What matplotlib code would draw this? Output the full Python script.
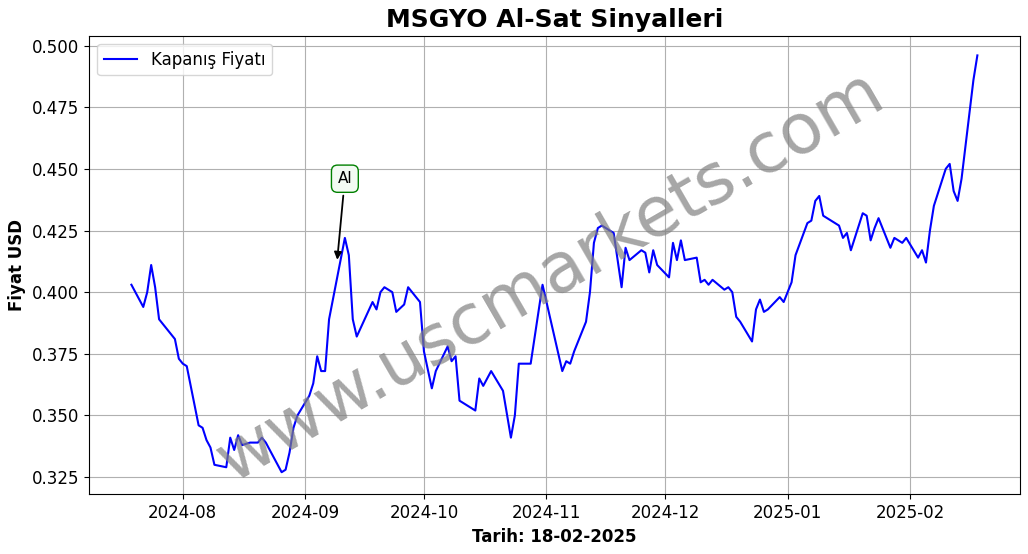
import matplotlib
matplotlib.use("Agg")
import matplotlib.pyplot as plt
import matplotlib.dates as mdates
import pandas as pd

dates = [
    "2024-07-19", "2024-07-22", "2024-07-23", "2024-07-24", "2024-07-25", "2024-07-26",
    "2024-07-29", "2024-07-30", "2024-07-31", "2024-08-01", "2024-08-02", "2024-08-05",
    "2024-08-06", "2024-08-07", "2024-08-08", "2024-08-09", "2024-08-12", "2024-08-13",
    "2024-08-14", "2024-08-15", "2024-08-16", "2024-08-18", "2024-08-20", "2024-08-21",
    "2024-08-22", "2024-08-26", "2024-08-27", "2024-08-28", "2024-08-29", "2024-08-30",
    "2024-09-02", "2024-09-03", "2024-09-04", "2024-09-05", "2024-09-06", "2024-09-07",
    "2024-09-11", "2024-09-12", "2024-09-13", "2024-09-14", "2024-09-18", "2024-09-19",
    "2024-09-20", "2024-09-21", "2024-09-23", "2024-09-24", "2024-09-26", "2024-09-27",
    "2024-09-30", "2024-10-01", "2024-10-03", "2024-10-04", "2024-10-07", "2024-10-08",
    "2024-10-09", "2024-10-10", "2024-10-14", "2024-10-15", "2024-10-16", "2024-10-18",
    "2024-10-21", "2024-10-23", "2024-10-24", "2024-10-25", "2024-10-28", "2024-10-31",
    "2024-11-05", "2024-11-06", "2024-11-07", "2024-11-08", "2024-11-11", "2024-11-12",
    "2024-11-13", "2024-11-14", "2024-11-15", "2024-11-18", "2024-11-20", "2024-11-21",
    "2024-11-22", "2024-11-25", "2024-11-26", "2024-11-27", "2024-11-28", "2024-11-29",
    "2024-12-02", "2024-12-03", "2024-12-04", "2024-12-05", "2024-12-06", "2024-12-09",
    "2024-12-10", "2024-12-11", "2024-12-12", "2024-12-13", "2024-12-16", "2024-12-17",
    "2024-12-18", "2024-12-19", "2024-12-20", "2024-12-23", "2024-12-24", "2024-12-25",
    "2024-12-26", "2024-12-27", "2024-12-30", "2024-12-31", "2025-01-02", "2025-01-03",
    "2025-01-06", "2025-01-07", "2025-01-08", "2025-01-09", "2025-01-10", "2025-01-14",
    "2025-01-15", "2025-01-16", "2025-01-17", "2025-01-20", "2025-01-21", "2025-01-22",
    "2025-01-23", "2025-01-24", "2025-01-27", "2025-01-28", "2025-01-29", "2025-01-30",
    "2025-01-31", "2025-02-03", "2025-02-04", "2025-02-05", "2025-02-06", "2025-02-07",
    "2025-02-10", "2025-02-11", "2025-02-12", "2025-02-13", "2025-02-14", "2025-02-17",
    "2025-02-18",
]
prices = [
    0.403, 0.394, 0.400, 0.411, 0.402, 0.389,
    0.383, 0.381, 0.373, 0.371, 0.370, 0.346,
    0.345, 0.340, 0.337, 0.330, 0.329, 0.341,
    0.336, 0.342, 0.338, 0.339, 0.339, 0.341,
    0.339, 0.327, 0.328, 0.335, 0.345, 0.350,
    0.358, 0.363, 0.374, 0.368, 0.368, 0.389,
    0.422, 0.415, 0.389, 0.382, 0.396, 0.393,
    0.400, 0.402, 0.400, 0.392, 0.395, 0.402,
    0.396, 0.376, 0.361, 0.368, 0.378, 0.372,
    0.374, 0.356, 0.352, 0.365, 0.362, 0.368,
    0.360, 0.341, 0.350, 0.371, 0.371, 0.403,
    0.368, 0.372, 0.371, 0.376, 0.388, 0.400,
    0.420, 0.426, 0.427, 0.424, 0.402, 0.418,
    0.413, 0.417, 0.416, 0.408, 0.417, 0.411,
    0.406, 0.420, 0.413, 0.421, 0.413, 0.414,
    0.404, 0.405, 0.403, 0.405, 0.401, 0.402,
    0.400, 0.390, 0.388, 0.380, 0.393, 0.397,
    0.392, 0.393, 0.398, 0.396, 0.404, 0.415,
    0.428, 0.429, 0.437, 0.439, 0.431, 0.427,
    0.422, 0.424, 0.417, 0.432, 0.431, 0.421,
    0.426, 0.430, 0.418, 0.422, 0.421, 0.420,
    0.422, 0.414, 0.417, 0.412, 0.425, 0.435,
    0.450, 0.452, 0.441, 0.437, 0.446, 0.486,
    0.496,
]
signal_date = "2024-09-09"
signal_price = 0.412

x = pd.to_datetime(dates)

fig, ax = plt.subplots(figsize=(10.28, 5.54), dpi=100)
ax.plot(x, prices, color="blue", linewidth=1.5, label="Kapanış Fiyatı")

ax.annotate("Al", xy=(pd.Timestamp(signal_date), signal_price),
            xytext=(pd.Timestamp("2024-09-11"), 0.446),
            ha="center", va="center", fontsize=11,
            bbox=dict(boxstyle="round,pad=0.4", facecolor="#f3fbf3", edgecolor="green"),
            arrowprops=dict(arrowstyle="-|>", color="black", linewidth=1.3))

fig.text(0.535, 0.5, "www.uscmarkets.com", fontsize=50, color="gray", alpha=0.7,
         rotation=30, ha="center", va="center")

ax.set_title("MSGYO Al-Sat Sinyalleri", fontsize=18, fontweight="bold")
ax.set_xlabel("Tarih: 18-02-2025", fontsize=12, fontweight="bold")
ax.set_ylabel("Fiyat USD", fontsize=12, fontweight="bold")
ax.xaxis.set_major_locator(mdates.MonthLocator())
ax.xaxis.set_major_formatter(mdates.DateFormatter("%Y-%m"))
ax.tick_params(labelsize=12)
ax.set_ylim(0.318, 0.504)
ax.grid(True)
ax.legend(loc="upper left", fontsize=12)
plt.tight_layout(pad=0.6)
fig.savefig("out.png", dpi=100)
